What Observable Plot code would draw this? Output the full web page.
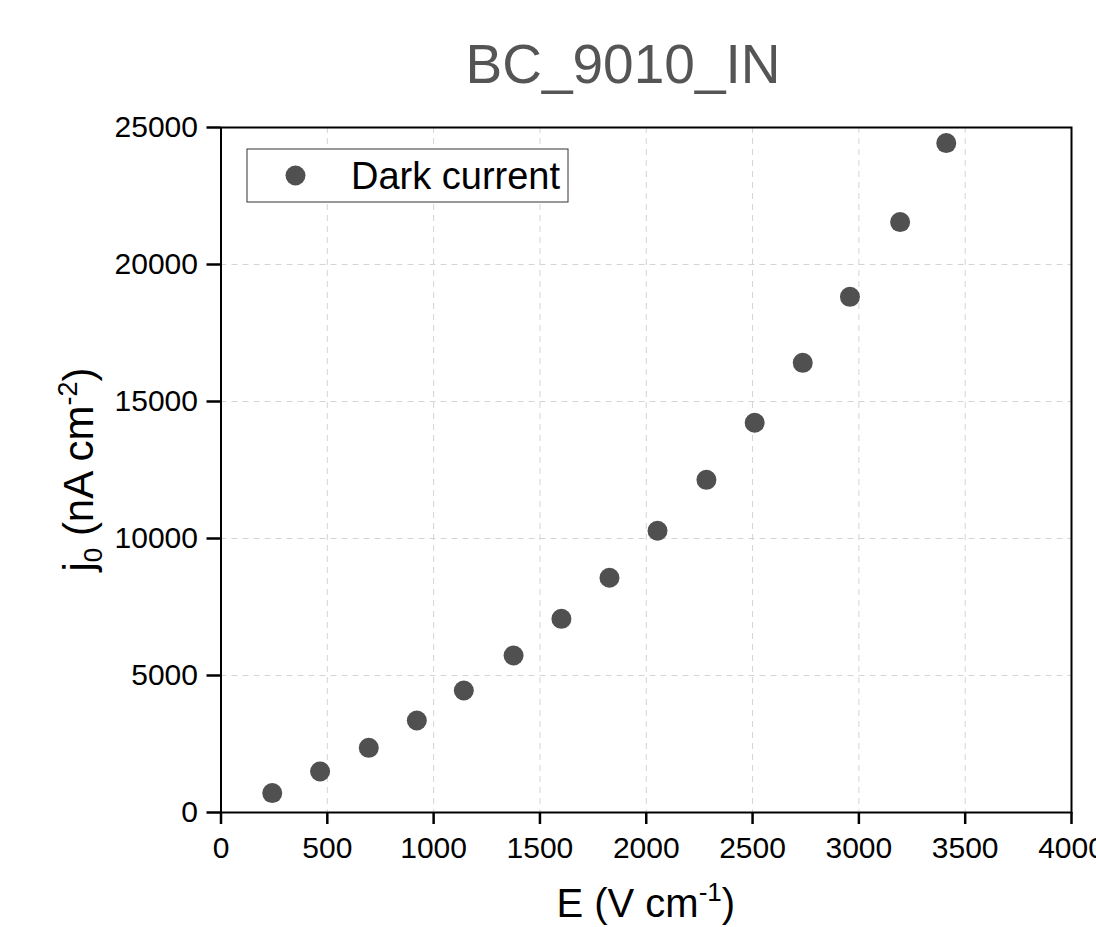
<!DOCTYPE html>
<html>
<head>
<meta charset="utf-8">
<script src="https://cdn.jsdelivr.net/npm/d3@7"></script>
<script src="https://cdn.jsdelivr.net/npm/@observablehq/plot@0.6"></script>
<style>
  html, body { margin: 0; padding: 0; background: #fff; }
  #chart svg { display: block; }
</style>
</head>
<body>
<div id="chart"></div>
<script>
const title = "BC_9010_IN";
const seriesName = "Dark current";
const fieldE = [241, 466, 695, 921, 1142, 1376, 1601, 1827, 2053, 2283, 2510, 2736, 2958, 3194, 3411];
const darkCurrent = [708, 1496, 2361, 3358, 4453, 5730, 7069, 8566, 10281, 12142, 14223, 16412, 18821, 21547, 24430];
const xTicks = [0, 500, 1000, 1500, 2000, 2500, 3000, 3500, 4000];
const yTicks = [0, 5000, 10000, 15000, 20000, 25000];
const xGrid = [500, 1000, 1500, 2000, 2500, 3000, 3500];
const yGrid = [5000, 10000, 15000, 20000];

const data = fieldE.map((e, i) => ({E: e, j: darkCurrent[i]}));

const W = 1096, H = 927;
const mL = 220.5, mR = 25, mT = 127, mB = 115;

const chart = Plot.plot({
  width: W,
  height: H,
  marginLeft: mL,
  marginRight: mR,
  marginTop: mT,
  marginBottom: mB,
  style: {fontFamily: "'Liberation Sans', Arial, sans-serif", background: "#fff", color: "#000"},
  x: {domain: [0, 4000]},
  y: {domain: [0, 25000]},
  marks: [
    Plot.ruleX(xGrid, {stroke: "#d4d4d4", strokeWidth: 1, strokeDasharray: "6,5"}),
    Plot.ruleY(yGrid, {stroke: "#d4d4d4", strokeWidth: 1, strokeDasharray: "6,5"}),
    Plot.dot(data, {x: "E", y: "j", r: 10, fill: "#505050", stroke: "none"}),
    Plot.frame({stroke: "#000", strokeWidth: 2}),
    Plot.axisX({ticks: xTicks, tickSize: 12, tickPadding: 12, fontSize: 30, strokeWidth: 2.5, label: null, tickFormat: d => String(d)}),
    Plot.axisY({ticks: yTicks, tickSize: 14, tickPadding: 9, fontSize: 30, strokeWidth: 2.5, label: null, tickFormat: d => String(d)})
  ]
});

document.getElementById("chart").appendChild(chart);

const svg = d3.select(chart);
const ff = "'Liberation Sans', Arial, sans-serif";

// Title
svg.append("text")
  .attr("x", 623).attr("y", 83)
  .attr("text-anchor", "middle")
  .attr("font-family", ff)
  .attr("font-size", 55)
  .attr("fill", "#555555")
  .text(title);

// X label
const xl = svg.append("text")
  .attr("x", (mL + W - mR) / 2).attr("y", 917)
  .attr("text-anchor", "middle")
  .attr("font-family", ff)
  .attr("font-size", 40)
  .attr("fill", "#000");
xl.append("tspan").text("E (V cm");
xl.append("tspan").attr("dy", -16).attr("font-size", 26).text("-1");
xl.append("tspan").attr("dy", 16).text(")");

// Y label
const yl = svg.append("text")
  .attr("transform", `translate(93, ${(mT + H - mB) / 2}) rotate(-90)`)
  .attr("text-anchor", "middle")
  .attr("font-family", ff)
  .attr("font-size", 42)
  .attr("fill", "#000");
yl.append("tspan").text("j");
yl.append("tspan").attr("dy", 9).attr("font-size", 26).text("0");
yl.append("tspan").attr("dy", -9).text(" (nA cm");
yl.append("tspan").attr("dy", -16).attr("font-size", 27).text("-2");
yl.append("tspan").attr("dy", 16).text(")");

// Legend
const lg = svg.append("g");
lg.append("rect")
  .attr("x", 247).attr("y", 149).attr("width", 321).attr("height", 53)
  .attr("fill", "#fff").attr("stroke", "#333").attr("stroke-width", 1);
lg.append("circle")
  .attr("cx", 295.5).attr("cy", 175.5).attr("r", 10).attr("fill", "#505050");
lg.append("text")
  .attr("x", 351).attr("y", 189)
  .attr("text-anchor", "start")
  .attr("font-family", ff).attr("font-size", 38).attr("fill", "#000")
  .text(seriesName);
</script>
</body>
</html>
